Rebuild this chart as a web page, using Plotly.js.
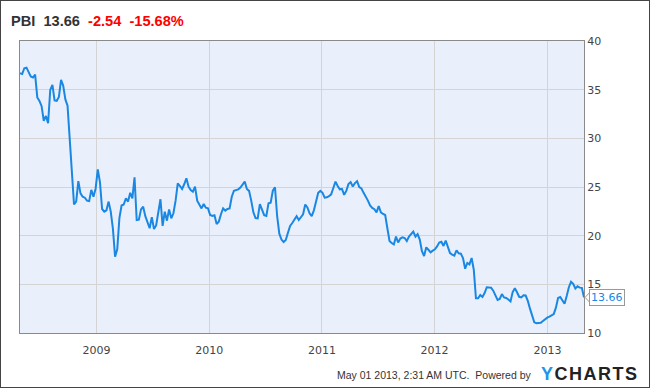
<!DOCTYPE html>
<html>
<head>
<meta charset="utf-8">
<script src="https://cdn.plot.ly/plotly-3.0.1.min.js"></script>
<style>
  html, body { margin: 0; padding: 0; background: #fff; }
  #frame { width: 650px; height: 388px; box-sizing: border-box; border: 1px solid #444; overflow: hidden; }
  #chart { width: 648px; height: 386px; }
</style>
</head>
<body>
<div id="frame"><div id="chart"></div></div>
<script>
// ---- data (weekly closes) ----
const ticker = 'PBI';
const lastPrice = 13.66;
const change = -2.54;
const changePct = -15.68;
const startDate = '2008-04-28';   // first weekly observation
const stepDays = 7;
const xRange = ['2008-04-28', '2013-04-29'];
const yTicks = [10, 15, 20, 25, 30, 35, 40];
const xTickVals = ['2009-01-01', '2010-01-01', '2011-01-01', '2012-01-01', '2013-01-01'];
const xTickText = ['2009', '2010', '2011', '2012', '2013'];
const closes = [
  36.68, 36.6, 37.2, 37.26, 36.8, 36.35, 36.25, 36.55, 34.2, 33.85,
  33.3, 31.8, 32.3, 31.55, 34.97, 35.5, 33.9, 33.85, 34.25, 36.0,
  35.4, 34.0, 33.35, 30.2, 27.3, 23.2, 23.5, 25.6, 24.35, 24.0,
  23.9, 23.6, 23.55, 24.7, 24.0, 24.85, 26.8, 25.5, 22.74, 22.47,
  22.6, 23.5, 22.47, 20.7, 17.84, 18.6, 21.8, 23.1, 23.2, 23.84,
  23.5, 24.4, 23.84, 26.0, 21.6, 21.65, 22.7, 22.98, 22.0, 21.3,
  20.76, 21.9, 20.69, 21.05, 22.4, 23.74, 21.0, 22.46, 21.54, 22.7,
  21.78, 22.3, 23.6, 25.38, 25.1, 24.8, 25.28, 25.9, 25.03, 24.69,
  24.52, 25.03, 23.6, 23.15, 22.8, 23.25, 22.87, 22.8, 22.12, 22.02,
  22.1, 21.2, 21.44, 22.2, 22.8, 22.57, 22.74, 22.8, 24.0, 24.62,
  24.69, 24.76, 24.95, 25.2, 25.55, 24.8, 24.6, 23.6, 22.4, 21.8,
  21.78, 23.25, 22.7, 22.1, 22.02, 23.32, 23.39, 24.62, 24.97, 22.0,
  20.2, 19.6, 19.35, 19.55, 20.3, 21.0, 21.3, 21.7, 22.0, 21.61,
  21.95, 22.2, 23.2, 22.9, 22.3, 22.0, 22.6, 23.6, 24.4, 24.6,
  24.4, 23.9, 23.94, 24.06, 24.25, 24.9, 25.55, 25.1, 24.76, 24.8,
  24.2, 24.6, 25.3, 25.5, 25.05, 25.4, 25.6, 25.0, 24.85, 24.4,
  24.05, 23.6, 23.1, 22.85, 22.72, 22.4, 23.05, 22.4, 22.23, 22.12,
  20.76, 19.45, 19.25, 19.1, 19.9, 19.3, 19.7, 19.83, 19.76, 19.45,
  19.9, 20.15, 20.41, 19.9, 20.15, 19.6, 18.4, 17.91, 18.8, 18.55,
  18.29, 18.46, 18.6, 18.9, 19.3, 19.38, 18.94, 19.49, 18.9, 18.2,
  18.05, 17.95, 18.5, 18.19, 18.15, 17.7, 16.6, 17.2, 17.05, 17.7,
  16.5, 13.56, 13.56, 13.9, 13.7, 14.1, 14.7, 14.7, 14.66, 14.35,
  13.84, 13.39, 13.5, 14.0, 13.65, 13.6, 13.45, 13.25, 14.2, 14.59,
  14.18, 13.72, 13.66, 13.88, 13.85, 13.3, 12.5, 11.75, 11.1, 11.0,
  11.0, 11.05, 11.23, 11.44, 11.58, 11.68, 11.78, 11.95, 12.6, 13.6,
  13.7, 13.35, 13.0, 13.8, 14.7, 15.27, 15.05, 14.58, 14.8, 14.66,
  14.64, 13.66
];
const footerText = 'May 01 2013, 2:31 AM UTC.&nbsp; Powered by';

// ---- build weekly date index ----
const t0 = Date.parse(startDate + 'T00:00:00Z');
const dates = closes.map((_, i) => new Date(t0 + i * stepDays * 864e5).toISOString().slice(0, 10));

const lineColor = '#1a87e2';
const nb = '&nbsp;';

const trace = {
  type: 'scatter', mode: 'lines',
  x: dates, y: closes,
  line: { color: lineColor, width: 2 },
  hoverinfo: 'skip'
};

const layout = {
  width: 648, height: 386,
  margin: { l: 19, r: 65, t: 40, b: 54, pad: 0 },
  paper_bgcolor: '#ffffff',
  plot_bgcolor: '#e9f0fc',
  showlegend: false,
  font: { family: 'DejaVu Sans, sans-serif', size: 11, color: '#444' },
  title: {
    text: '<b><span style="color:#333">' + ticker + nb + ' ' + lastPrice.toFixed(2) + '</span>' + nb + ' ' +
          '<span style="color:#ff0000">' + change.toFixed(2) + nb + ' ' + changePct.toFixed(2) + '%</span></b>',
    font: { family: 'Liberation Sans, Arial, sans-serif', size: 14.6, color: '#333' },
    xref: 'container', x: 10 / 648, xanchor: 'left',
    yref: 'container', y: 1 - 20 / 386, yanchor: 'middle'
  },
  xaxis: {
    type: 'date', range: xRange,
    tickmode: 'array', tickvals: xTickVals, ticktext: xTickText,
    showgrid: true, gridcolor: '#d4d4d4', gridwidth: 1,
    showline: true, linecolor: '#8a8a8a', linewidth: 1, mirror: true,
    ticks: '', zeroline: false, ticklabelstandoff: 7,
    tickfont: { family: 'DejaVu Sans, sans-serif', size: 11, color: '#444' }
  },
  yaxis: {
    side: 'right', range: [10, 40],
    tickmode: 'array', tickvals: yTicks,
    showgrid: true, gridcolor: '#d4d4d4', gridwidth: 1,
    showline: true, linecolor: '#8a8a8a', linewidth: 1, mirror: true,
    ticks: '', zeroline: false,
    tickfont: { family: 'DejaVu Sans, sans-serif', size: 11, color: '#444' }
  },
  shapes: [
    { type: 'path', xref: 'paper', yref: 'y',
      path: 'M 1.0100 ' + (lastPrice + 0.5) + ' L 1.0020 ' + lastPrice + ' L 1.0100 ' + (lastPrice - 0.5),
      line: { color: '#999', width: 1 }, fillcolor: 'rgba(0,0,0,0)', layer: 'above' }
  ],
  annotations: [
    { xref: 'paper', yref: 'y', x: 1.0094, y: lastPrice, xanchor: 'left', yanchor: 'middle',
      text: lastPrice.toFixed(2), showarrow: false,
      font: { family: 'DejaVu Sans, sans-serif', size: 11, color: lineColor },
      bgcolor: '#ffffff', bordercolor: '#999', borderwidth: 1, borderpad: 1 },
    { xref: 'paper', yref: 'paper', x: (534 - 20) / 564, y: 0, xanchor: 'right', yanchor: 'middle',
      yshift: -42, text: footerText, showarrow: false,
      font: { family: 'Liberation Sans, Arial, sans-serif', size: 10.5, color: '#333' } },
    { xref: 'paper', yref: 'paper', x: (539 - 20) / 564, y: 0, xanchor: 'left', yanchor: 'middle',
      yshift: -41, showarrow: false,
      text: '<b><span style="color:#2196e8;letter-spacing:1.5px">Y</span><span style="color:#222;letter-spacing:1.5px">CHARTS</span></b>',
      font: { family: 'Liberation Sans, Arial, sans-serif', size: 18, color: '#222' } }
  ]
};

Plotly.newPlot('chart', [trace], layout, { staticPlot: true, displayModeBar: false });
</script>
</body>
</html>
